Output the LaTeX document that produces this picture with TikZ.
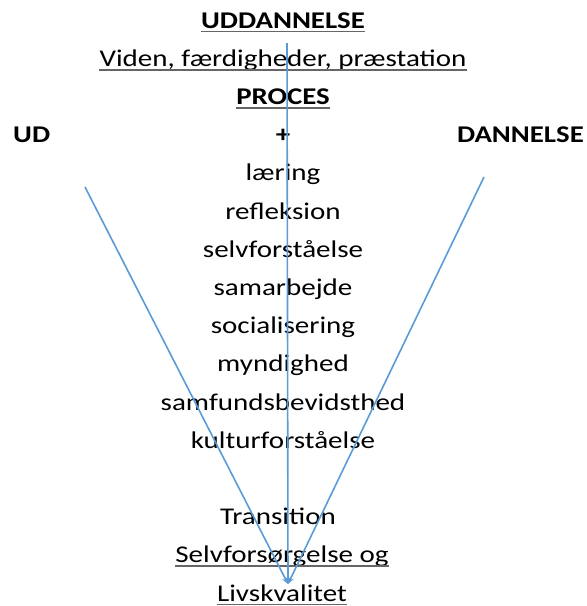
\documentclass[tikz,border=0pt]{standalone}
\usepackage{fontspec}
\setmainfont{Carlito}[FakeStretch=1.21,BoldFeatures={FakeStretch=1.2}]
\usetikzlibrary{arrows.meta}
\begin{document}
\begin{tikzpicture}[x=1pt,y=-1pt,
  txt/.style={inner sep=0pt,anchor=base,font=\fontsize{24}{28}\selectfont},
  bld/.style={txt,font=\fontsize{24}{28}\selectfont\bfseries},
  ul/.style={draw=black!60,line width=1.8pt},
  vline/.style={draw={rgb,255:red,91;green,155;blue,213},line width=1.6pt,-{Stealth[length=7pt,width=6pt]}}]
\useasboundingbox (0,0) rectangle (587,606);
\node[bld] (t0) at (283,28) {UDDANNELSE};
\node[txt] (t1) at (283,66.2) {Viden, færdigheder, præstation};
\node[bld] (t2) at (283,104.4) {PROCES};
\node[bld] (t3) at (283,142.6) {+};
\node[txt] (t4) at (283,180.8) {læring};
\node[txt] (t5) at (283,219) {refleksion};
\node[txt] (t6) at (283,257.2) {selvforståelse};
\node[txt] (t7) at (283,295.4) {samarbejde};
\node[txt] (t8) at (283,333.6) {socialisering};
\node[txt] (t9) at (283,371.8) {myndighed};
\node[txt] (t10) at (283,410) {samfundsbevidsthed};
\node[txt] (t11) at (283,448.2) {kulturforståelse};
\node[txt] (t13) at (278,524.6) {Transition};
\node[txt] (t14) at (282,562.8) {Selvforsørgelse og};
\node[txt] (t15) at (282,601) {Livskvalitet};
\node[bld,anchor=base west] (ud) at (13,142.6) {UD};
\node[bld,anchor=base east] (dan) at (584,142.6) {DANNELSE};
\foreach \n in {t0,t1,t2,t14,t15}
  \draw[ul] ([yshift=-3.5pt]\n.base west) -- ([yshift=-3.5pt]\n.base east);
\coordinate (tip) at (288,584);
\coordinate (cl) at (287,43);
\coordinate (ll) at (85,187);
\coordinate (rl) at (484,177);
\draw[vline] (cl) -- (tip);
\draw[vline] (ll) -- (tip);
\draw[vline] (rl) -- (tip);
\end{tikzpicture}
\end{document}
